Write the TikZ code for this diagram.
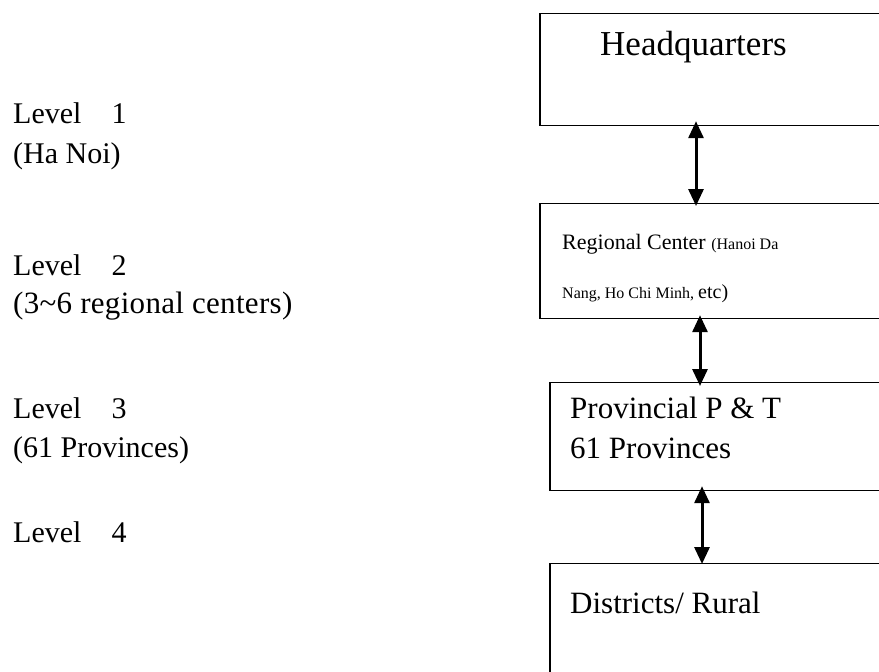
\documentclass[tikz,border=0pt]{standalone}
\usepackage{fontspec}
\setmainfont{Liberation Serif}
\usetikzlibrary{arrows.meta}
\begin{document}
\begin{tikzpicture}[x=1pt,y=-1pt,
  box/.style={draw=black,line width=1.2pt,anchor=north west,inner sep=0pt},
  edge/.style={line width=2.6pt},
  lbl/.style={anchor=base west,inner sep=0pt,font=\fontsize{30}{36}\selectfont},
  arr/.style={line width=3pt,{Triangle[width=15pt,length=17pt]}-{Triangle[width=15pt,length=17pt]}}]
\useasboundingbox (0,0) rectangle (879,672);
\clip (0,0) rectangle (879,672);
% boxes
\node[box,minimum width=400pt,minimum height=112pt] (hq) at (540,13) {};
\node[box,minimum width=400pt,minimum height=115pt] (rc) at (540,203) {};
\node[box,minimum width=400pt,minimum height=108pt] (pv) at (550,382) {};
\node[box,minimum width=400pt,minimum height=150pt] (ds) at (550,563) {};
\draw[edge] (hq.north west) -- (hq.south west);
\draw[edge] (rc.north west) -- (rc.south west);
\draw[edge] (pv.north west) -- (pv.south west);
\draw[edge] (ds.north west) -- (ds.south west);
% box texts
\node[lbl,font=\fontsize{35}{42}\selectfont] (thq) at (600,55) {Headquarters};
\node[lbl,font=\fontsize{22}{26}\selectfont] (trc1) at (562,249) {Regional Center {\fontsize{16}{19}\selectfont (Hanoi Da}};
\node[lbl,font=\fontsize{16}{19}\selectfont] (trc2) at (562,298) {Nang, Ho Chi Minh, {\fontsize{20}{24}\selectfont etc)}};
\node[lbl,font=\fontsize{31}{37}\selectfont] (tpv1) at (570,418) {Provincial P \& T};
\node[lbl,font=\fontsize{31}{37}\selectfont] (tpv2) at (570,458) {61 Provinces};
\node[lbl,font=\fontsize{31}{37}\selectfont] (tds) at (570,613) {Districts/ Rural};
% arrows
\coordinate (a1) at (696,0);
\coordinate (a2) at (700,0);
\coordinate (a3) at (702,0);
\draw[arr] ([yshift=5pt]hq.south -| a1) -- ([yshift=-3pt]rc.north -| a1);
\draw[arr] ([yshift=4pt]rc.south -| a2) -- ([yshift=-4pt]pv.north -| a2);
\draw[arr] ([yshift=5pt]pv.south -| a3) -- ([yshift=-1pt]ds.north -| a3);
% left labels
\node[lbl] (l1) at (13,123) {Level\hspace{30pt}1};
\node[lbl] (l1b) at (13,163) {(Ha Noi)};
\node[lbl] (l2) at (13,275) {Level\hspace{30pt}2};
\node[lbl,font=\fontsize{31}{37}\selectfont\addfontfeature{LetterSpace=1}] (l2b) at (13,313) {(3\textasciitilde 6 regional centers)};
\node[lbl] (l3) at (13,418) {Level\hspace{30pt}3};
\node[lbl] (l3b) at (13,457) {(61 Provinces)};
\node[lbl] (l4) at (13,542) {Level\hspace{30pt}4};
\end{tikzpicture}
\end{document}
